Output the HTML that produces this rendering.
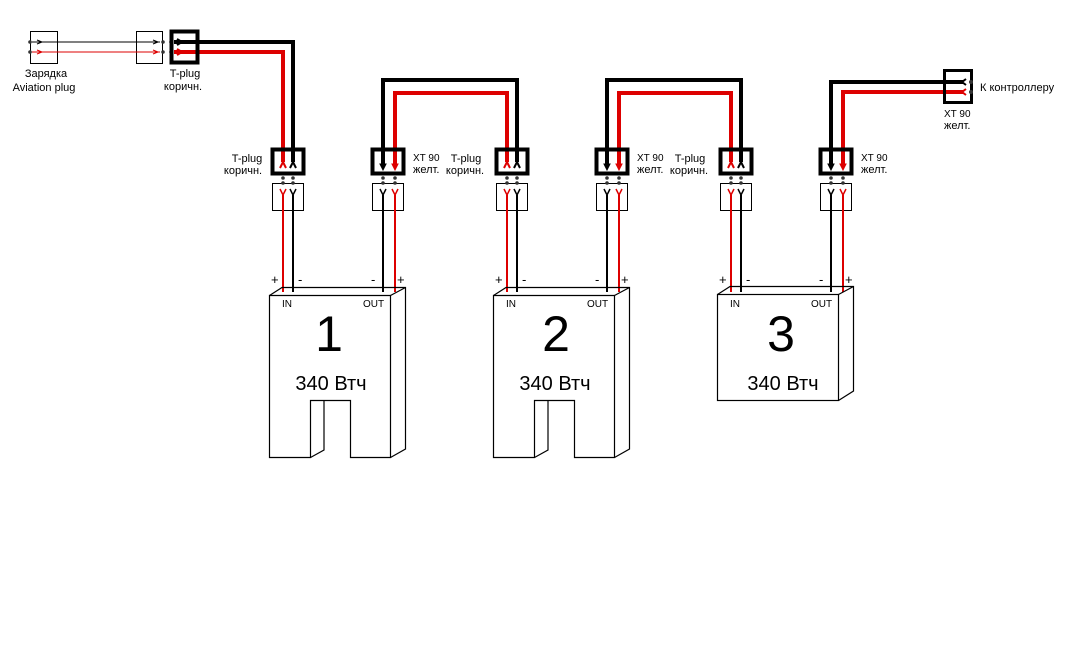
<!DOCTYPE html>
<html><head><meta charset="utf-8"><style>
html,body{margin:0;padding:0;background:#fff;}
svg{display:block;font-family:"Liberation Sans",sans-serif;}
</style></head><body>
<svg width="1066" height="667" viewBox="0 0 1066 667" xmlns="http://www.w3.org/2000/svg">
<defs>
<g id="grp">
  <line x1="283" y1="190" x2="283" y2="292" stroke="#d00" stroke-width="2"/>
  <line x1="293" y1="190" x2="293" y2="292" stroke="#000" stroke-width="2"/>
  <line x1="383" y1="190" x2="383" y2="292" stroke="#000" stroke-width="2"/>
  <line x1="395" y1="190" x2="395" y2="292" stroke="#d00" stroke-width="2"/>
  <rect x="272.5" y="149.5" width="31" height="24" fill="none" stroke="#000" stroke-width="4"/>
  <rect x="272.5" y="183.5" width="31" height="27" fill="#fff" stroke="#000" stroke-width="1"/>
  <path d="M280 168 L283 162 L286 168" fill="none" stroke="#d00" stroke-width="2"/>
  <path d="M290 168 L293 162 L296 168" fill="none" stroke="#000" stroke-width="2"/>
  <path d="M280 189 L283 195 L286 189" fill="none" stroke="#d00" stroke-width="1.5"/>
  <path d="M290 189 L293 195 L296 189" fill="none" stroke="#000" stroke-width="1.5"/>
  <line x1="283" y1="195" x2="283" y2="211" stroke="#d00" stroke-width="2"/>
  <line x1="293" y1="195" x2="293" y2="211" stroke="#000" stroke-width="2"/>
  <circle cx="283" cy="178" r="1.8" fill="#333"/><circle cx="293" cy="178" r="1.8" fill="#333"/>
  <circle cx="283" cy="183" r="1.8" fill="#333"/><circle cx="293" cy="183" r="1.8" fill="#333"/>
  <rect x="372.5" y="149.5" width="31" height="24" fill="none" stroke="#000" stroke-width="4"/>
  <rect x="372.5" y="183.5" width="31" height="27" fill="#fff" stroke="#000" stroke-width="1"/>
  <path d="M380 164 L383 170 L386 164 Z" fill="#000" stroke="#000"/>
  <path d="M392 164 L395 170 L398 164 Z" fill="#d00" stroke="#d00"/>
  <path d="M380 189 L383 195 L386 189" fill="none" stroke="#000" stroke-width="1.5"/>
  <path d="M392 189 L395 195 L398 189" fill="none" stroke="#d00" stroke-width="1.5"/>
  <line x1="383" y1="195" x2="383" y2="211" stroke="#000" stroke-width="2"/>
  <line x1="395" y1="195" x2="395" y2="211" stroke="#d00" stroke-width="2"/>
  <circle cx="383" cy="178" r="1.8" fill="#333"/><circle cx="395" cy="178" r="1.8" fill="#333"/>
  <circle cx="383" cy="183" r="1.8" fill="#333"/><circle cx="395" cy="183" r="1.8" fill="#333"/>
  <text x="271" y="284" font-size="13">+</text>
  <text x="298" y="284" font-size="13">-</text>
  <text x="371" y="284" font-size="13">-</text>
  <text x="397" y="284" font-size="13">+</text>
  <text x="282" y="307" font-size="10">IN</text>
  <text x="363" y="307" font-size="10">OUT</text>
</g>
</defs>

<rect x="30.5" y="31.5" width="27" height="32" fill="none" stroke="#000"/>
<rect x="136.5" y="31.5" width="26" height="32" fill="none" stroke="#000"/>
<line x1="32" y1="42" x2="160" y2="42" stroke="#000" stroke-width="1"/>
<line x1="32" y1="52" x2="160" y2="52" stroke="#d00" stroke-width="1"/>
<path d="M37 40 L42 42 L37 44" fill="none" stroke="#000"/>
<path d="M37 50 L42 52 L37 54" fill="none" stroke="#d00"/>
<path d="M153 40 L158 42 L153 44" fill="none" stroke="#000"/>
<path d="M153 50 L158 52 L153 54" fill="none" stroke="#d00"/>
<circle cx="30" cy="42" r="1.8" fill="#333"/><circle cx="30" cy="52" r="1.8" fill="#333"/>
<circle cx="163" cy="42" r="1.8" fill="#333"/><circle cx="163" cy="52" r="1.8" fill="#333"/>
<circle cx="171" cy="42" r="1.8" fill="#333"/><circle cx="171" cy="52" r="1.8" fill="#333"/>
<text x="46" y="77" font-size="11" text-anchor="middle">Зарядка</text>
<text x="44" y="91" font-size="11" text-anchor="middle">Aviation plug</text>
<text x="185" y="77" font-size="11" text-anchor="middle">T-plug</text>
<text x="183" y="90" font-size="11" text-anchor="middle">коричн.</text>

<g fill="none" stroke-width="4" stroke-linejoin="miter">
<path d="M174 42 H293 V162" stroke="#000"/>
<path d="M174 52 H283 V162" stroke="#d00"/>
<path d="M383 166 V80 H517 V162" stroke="#000"/>
<path d="M395 166 V93 H507 V162" stroke="#d00"/>
<path d="M607 166 V80 H741 V162" stroke="#000"/>
<path d="M619 166 V93 H731 V162" stroke="#d00"/>
<path d="M831 166 V82 H963" stroke="#000"/>
<path d="M843 166 V92 H963" stroke="#d00"/>
</g>
<rect x="171.5" y="31.5" width="26" height="31" fill="none" stroke="#000" stroke-width="4"/>
<path d="M177 39 L182 42 L177 45" fill="none" stroke="#000" stroke-width="2"/>
<path d="M177 49 L182 52 L177 55" fill="none" stroke="#d00" stroke-width="2"/>

<rect x="944.5" y="70.5" width="27" height="32" fill="none" stroke="#000" stroke-width="3"/>
<path d="M966 79 L962 82 L966 85" fill="none" stroke="#000" stroke-width="2"/>
<path d="M966 89 L962 92 L966 95" fill="none" stroke="#d00" stroke-width="2"/>
<circle cx="971" cy="82" r="2" fill="#333"/><circle cx="971" cy="92" r="2" fill="#333"/>
<text x="980" y="91" font-size="11">К контроллеру</text>
<text x="944" y="117" font-size="10">XT 90</text>
<text x="944" y="129" font-size="11">желт.</text>

<use href="#grp"/>
<use href="#grp" transform="translate(224,0)"/>
<use href="#grp" transform="translate(448,0)"/>

<g font-size="11">
<text x="247" y="162" text-anchor="middle">T-plug</text>
<text x="243" y="174" text-anchor="middle">коричн.</text>
<text x="413" y="161" font-size="10">XT 90</text>
<text x="413" y="173">желт.</text>
<text x="466" y="162" text-anchor="middle">T-plug</text>
<text x="465" y="174" text-anchor="middle">коричн.</text>
<text x="637" y="161" font-size="10">XT 90</text>
<text x="637" y="173">желт.</text>
<text x="690" y="162" text-anchor="middle">T-plug</text>
<text x="689" y="174" text-anchor="middle">коричн.</text>
<text x="861" y="161" font-size="10">XT 90</text>
<text x="861" y="173">желт.</text>
</g>

<g fill="none" stroke="#000" stroke-width="1.2">
<path d="M269.5 295.5 L282 287.5 H405.5 V449 L390.5 457.5 M390.5 295.5 L405.5 287.5"/>
<path d="M269.5 295.5 H390.5 V457.5 H350.5 V400.5 H310.5 V457.5 H269.5 Z"/>
<path d="M324 400.5 V450 L310.5 457.5"/>
<path d="M493.5 295.5 L506 287.5 H629.5 V449 L614.5 457.5 M614.5 295.5 L629.5 287.5"/>
<path d="M493.5 295.5 H614.5 V457.5 H574.5 V400.5 H534.5 V457.5 H493.5 Z"/>
<path d="M548 400.5 V450 L534.5 457.5"/>
<path d="M717.5 294.5 L730 286.5 H853.5 V391 L838.5 400.5 M838.5 294.5 L853.5 286.5"/>
<rect x="717.5" y="294.5" width="121" height="106"/>
</g>
<g font-size="50" text-anchor="middle">
<text x="329" y="351">1</text>
<text x="556" y="351">2</text>
<text x="781" y="351">3</text>
</g>
<g font-size="20">
<text x="331" y="390" text-anchor="middle">340 Втч</text>
<text x="555" y="390" text-anchor="middle">340 Втч</text>
<text x="783" y="390" text-anchor="middle">340 Втч</text>
</g>
</svg>
</body></html>
